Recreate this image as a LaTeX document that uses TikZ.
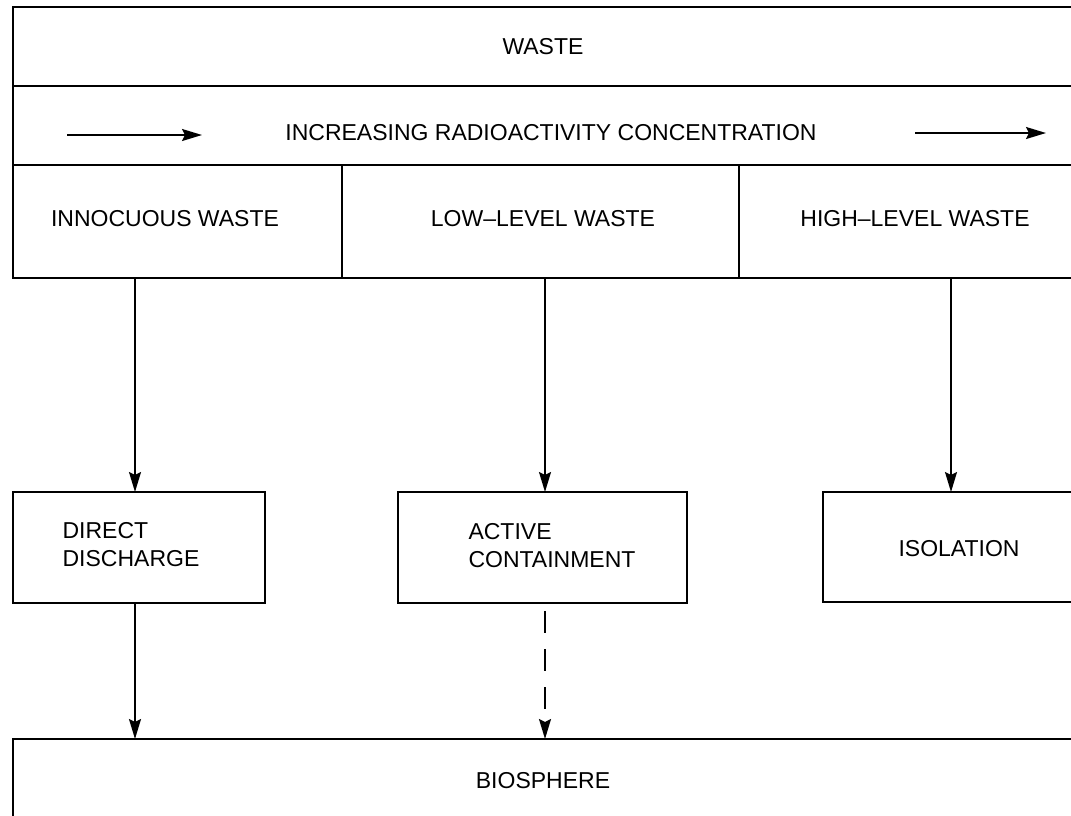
\documentclass[tikz,border=0pt]{standalone}
\usepackage{fontspec}
\setmainfont{Liberation Sans}
\usetikzlibrary{arrows.meta}
\begin{document}
\begin{tikzpicture}[x=1pt,y=-1pt,
  box/.style={draw, line width=1.8pt, inner sep=0pt, outer sep=0pt, anchor=north west},
  lbl/.style={font=\fontsize{23}{28}\selectfont},
  conn/.style={line width=1.8pt, -{Stealth[length=20pt,width=12pt,inset=3pt]}},
  dashconn/.style={conn, dash pattern=on 22pt off 16pt, dash phase=-8pt}]
\useasboundingbox (0,0) rectangle (1071,815);
\clip (0,0) rectangle (1071,815);
% top band
\node[box, minimum width=1080pt, minimum height=79pt] (waste) at (13,7) {};
\node[lbl] (wastet) at (543,47) {WASTE};
\node[box, minimum width=1080pt, minimum height=79pt] (band) at (13,86) {};
\node[lbl] (inc) at (551,133) {INCREASING RADIOACTIVITY CONCENTRATION};
\coordinate (la) at (67,135);
\coordinate (lb) at (202,135);
\coordinate (ra) at (915,133);
\coordinate (rb) at (1046,133);
\draw[conn] (la) -- (lb);
\draw[conn] (ra) -- (rb);
% category cells
\node[box, minimum width=329pt, minimum height=113pt] (innoc) at (13,165) {};
\node[box, minimum width=397pt, minimum height=113pt] (low) at (342,165) {};
\node[box, minimum width=340pt, minimum height=113pt] (high) at (739,165) {};
\node[lbl] (innoct) at (165,219) {INNOCUOUS WASTE};
\node[lbl] (lowt) at (543,219) {LOW--LEVEL WASTE};
\node[lbl] (hight) at (915,219) {HIGH--LEVEL WASTE};
% treatment boxes
\node[box, minimum width=252pt, minimum height=111pt] (dd) at (13,492) {};
\node[lbl, align=left] (ddt) at (131,545) {DIRECT\\DISCHARGE};
\node[box, minimum width=289pt, minimum height=111pt] (ac) at (398,492) {};
\node[lbl, align=left] (act) at (552,546) {ACTIVE\\CONTAINMENT};
\node[box, minimum width=260pt, minimum height=110pt] (iso) at (823,492) {};
\node[lbl] (isot) at (959,549) {ISOLATION};
% biosphere
\node[box, minimum width=1080pt, minimum height=100pt] (bio) at (13,739) {};
\node[lbl] (biot) at (543,781) {BIOSPHERE};
% connectors
\coordinate (c1) at (135,278);
\coordinate (c2) at (545,278);
\coordinate (c3) at (951,278);
\draw[conn] (c1) -- (c1 |- dd.north);
\draw[conn] (c2) -- (c2 |- ac.north);
\draw[conn] (c3) -- (c3 |- iso.north);
\draw[conn] (c1 |- dd.south) -- (c1 |- bio.north);
\draw[dashconn] (c2 |- ac.south) -- (c2 |- bio.north);
\end{tikzpicture}
\end{document}
